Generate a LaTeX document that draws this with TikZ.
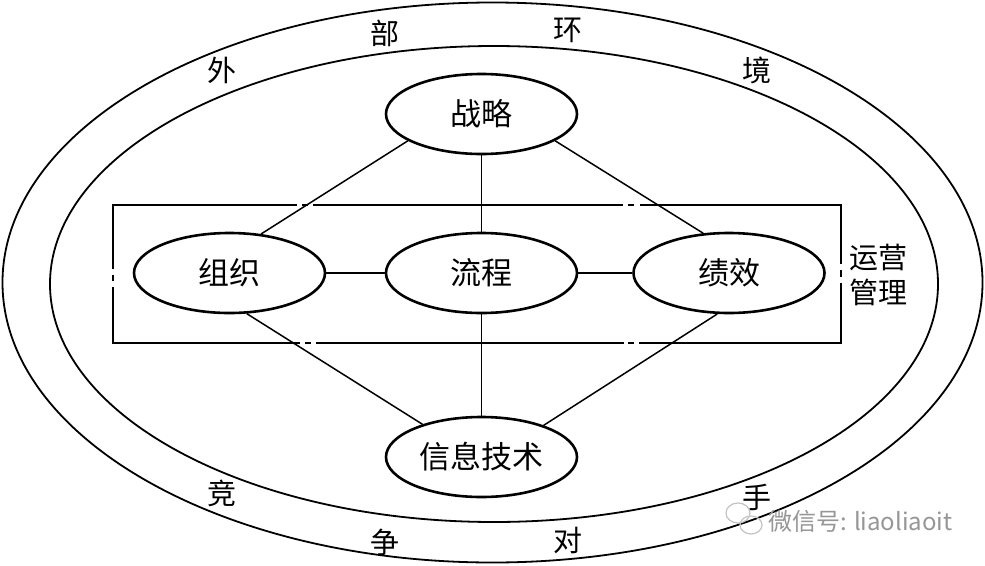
\documentclass[tikz,border=0pt]{standalone}
\usepackage{fontspec}
\newfontfamily\cjk{Noto Sans CJK SC}
\usetikzlibrary{shapes.geometric}
\definecolor{wmgray}{RGB}{150,150,150}
\definecolor{wmlight}{RGB}{195,195,195}
\begin{document}
\begin{tikzpicture}[x=1pt,y=-1pt,
  box/.style={ellipse, draw, line width=2.6pt, minimum width=191pt, minimum height=80pt, inner sep=0pt, font=\cjk\fontsize{31}{31}\selectfont},
  ring/.style={line width=1.8pt},
  link/.style={line width=1.5pt},
  frame/.style={line width=1.8pt},
  lbl/.style={inner sep=0pt, font=\cjk\fontsize{29}{29}\selectfont},
  wm/.style={inner sep=0pt, text=wmgray, font=\cjk\fontsize{24}{24}\selectfont}]

\useasboundingbox (0,0) rectangle (985,565);
\fill[white] (0,0) rectangle (985,565);

% rings
\draw[ring] (492.5,282.5) ellipse [x radius=490, y radius=280];
\draw[ring] (494,284) ellipse [x radius=444, y radius=238];

% operations frame (long dash-dot)
\draw[frame] (297,205) -- (113,205) -- (113,269);
\draw[frame] (113,275) -- (113,281);
\draw[frame] (113,287) -- (113,343) -- (300,343);
\draw[frame] (305,343) -- (311,343);
\draw[frame] (316,343) -- (624,343);
\draw[frame] (628,343) -- (634,343);
\draw[frame] (639,343) -- (841,343) -- (841,283);
\draw[frame] (841,277) -- (841,270);
\draw[frame] (841,264) -- (841,205) -- (640,205);
\draw[frame] (634,205) -- (628,205);
\draw[frame] (623,205) -- (313,205);
\draw[frame] (308,205) -- (302,205);

% nodes
\node[box] (zl) at (481.5,114) {战略};
\node[box] (zz) at (229.5,273) {组织};
\node[box] (lc) at (481.5,273) {流程};
\node[box] (jx) at (729,273) {绩效};
\node[box] (xx) at (481.5,457) {信息技术};

% connectors
\draw[link] (zl.200.9) -- (zz.51.3);
\draw[link] (zl.south) -- (lc.north);
\draw[link] (zl.340.8) -- (jx.123);
\draw[link] (zz.east) -- (lc.west);
\draw[link] (lc.east) -- (jx.west);
\draw[link] (zz.293.6) -- (xx.151);
\draw[link] (lc.south) -- (xx.north);
\draw[link] (jx.254.6) -- (xx.27.8);

% ring labels
\node[lbl] (w1) at (222,70) {外};
\node[lbl] (w2) at (385,33) {部};
\node[lbl] (w3) at (568,30) {环};
\node[lbl] (w4) at (757,70) {境};
\node[lbl] (c1) at (222,493) {竞};
\node[lbl] (c2) at (385,542) {争};
\node[lbl] (c3) at (568,540) {对};
\node[lbl] (c4) at (757,497) {手};
\node[lbl] (op1) at (878,258) {运营};
\node[lbl] (op2) at (878,292) {管理};

% watermark
\draw[wmlight, line width=1.2pt] (738,513) ellipse [x radius=12, y radius=10];
\draw[wmlight, line width=1.2pt] (751,525) ellipse [x radius=11, y radius=9];
\node[wm, anchor=west] (wmt) at (768,521) {微信号: liaoliaoit};
\end{tikzpicture}
\end{document}
